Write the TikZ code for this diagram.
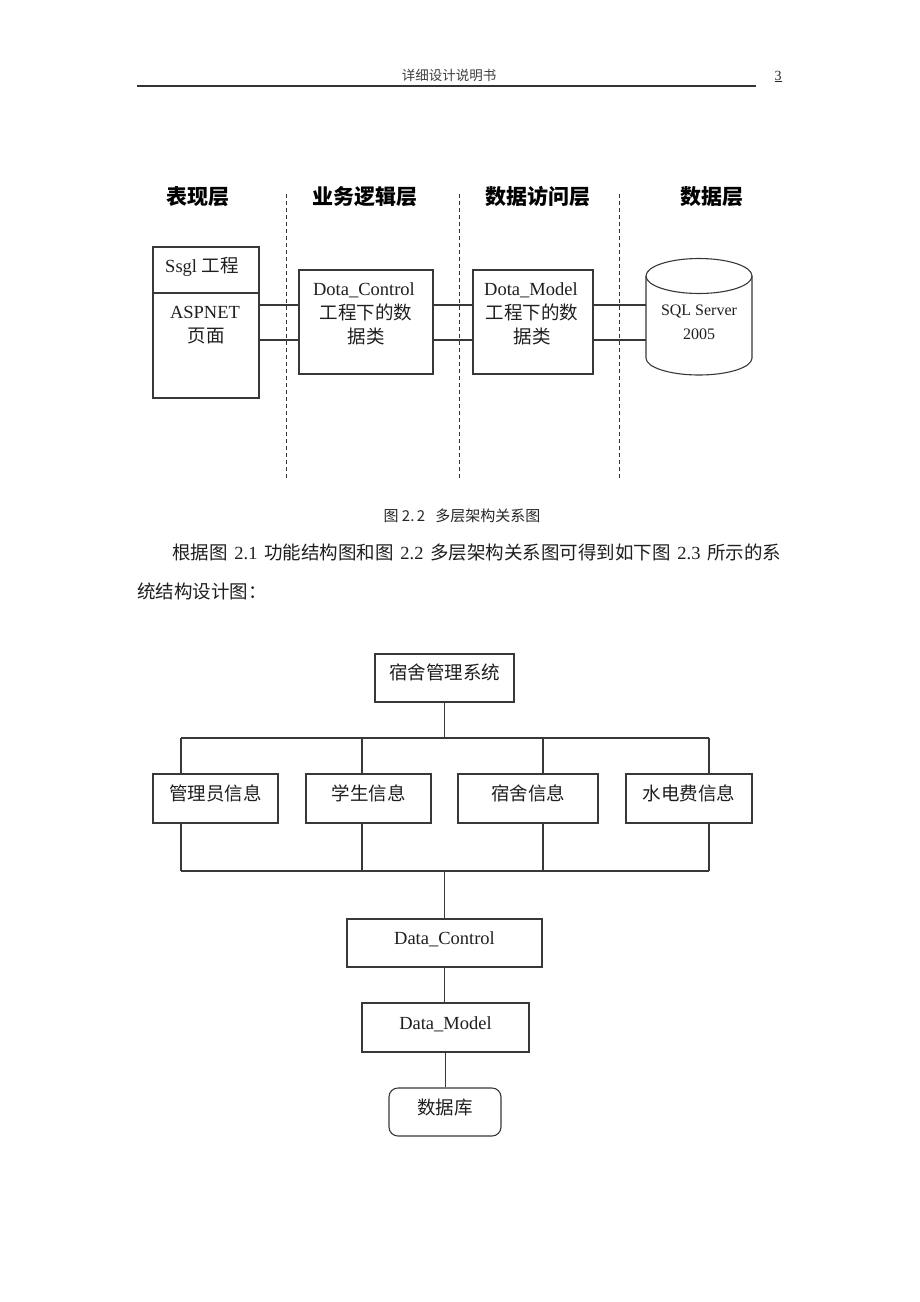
\documentclass[tikz,border=0pt]{standalone}
\usepackage{fontspec}
\setmainfont{Liberation Serif}
\newfontfamily\cjk{Noto Sans CJK SC}
\newcommand\zht[1]{{\cjk #1}}
\begin{document}
\begin{tikzpicture}[x=1pt,y=-1pt,
  ln/.style={draw=black!78, line width=1.1pt},
  box/.style={ln, inner sep=0, fill=none},
  t185/.style={inner sep=0, text height=13.3pt, text depth=0pt, text=black!88, font=\fontsize{18.5}{22}\selectfont},
  t160/.style={inner sep=0, text height=11.5pt, text depth=0pt, text=black!88, font=\fontsize{16}{19}\selectfont},
  thead/.style={inner sep=0, text height=15.1pt, text depth=0pt, text=black, font=\fontsize{21}{24}\selectfont\cjk\bfseries},
  t140/.style={inner sep=0, text height=10pt, text depth=0pt, text=black!85, font=\fontsize{14}{17}\selectfont},
  sep/.style={draw=black!80, line width=0.9pt, dash pattern=on 4pt off 3pt}
]
\useasboundingbox[fill=white] (0,0) rectangle (920,1302);

% ---------- page header ----------
\node[t140, font=\fontsize{13.5}{16}\selectfont\cjk, text=black!75] (hdr) at (449,75) {详细设计说明书};
\node[t140] (pg) at (778,75) {\underline{3}};
\coordinate (hl) at (137,86);
\coordinate (hr) at (756,86);
\draw[draw=black!80, line width=1.9pt] (hl) -- (hr);

% ---------- figure 2.2 ----------
\node[thead] (h1) at (198,197) {表现层};
\node[thead] (h2) at (365,197) {业务逻辑层};
\node[thead] (h3) at (538,197) {数据访问层};
\node[thead] (h4) at (712,197) {数据层};

\draw[sep] (286,194) -- (286,478);
\draw[sep] (459,194) -- (459,478);
\draw[sep] (619,194) -- (619,478);

\node[box, minimum width=106pt, minimum height=151pt] (ssgl) at (206,322.5) {};
\draw[ln] ([yshift=29.5pt]ssgl.west) -- ([yshift=29.5pt]ssgl.east);
\node[t185] (ssglt) at (202,266) {Ssgl \zht{工程}};
\node[t185] (aspt) at (205,312) {ASPNET};
\node[t185] (pgt) at (206,336) {\zht{页面}};

\node[box, minimum width=134pt, minimum height=104pt] (ctrl) at (366,322) {};
\node[t185] (ctrl1) at (364,289) {Dota\_Control};
\node[t185] (ctrl2) at (366,313) {\zht{工程下的数}};
\node[t185] (ctrl3) at (366,337) {\zht{据类}};

\node[box, minimum width=120pt, minimum height=104pt] (model) at (533,322) {};
\node[t185] (model1) at (531,289) {Dota\_Model};
\node[t185] (model2) at (532,313) {\zht{工程下的数}};
\node[t185] (model3) at (532,337) {\zht{据类}};

\node[inner sep=0, minimum width=106pt, minimum height=104pt] (sql) at (699,322) {};
\draw[ln] (646,276) -- (646,358) arc[start angle=180, end angle=0, x radius=53, y radius=17] -- (752,276);
\draw[ln] (699,276) ellipse[x radius=53, y radius=17.5];
\node[t160] (sql1) at (699,310) {SQL Server};
\node[t160] (sql2) at (699,334) {2005};

\foreach \a/\b in {ssgl/ctrl, ctrl/model, model/sql}{
  \draw[ln] ([yshift=17pt]\b.west -| \a.east) -- ([yshift=17pt]\b.west);
  \draw[ln] ([yshift=-18pt]\b.west -| \a.east) -- ([yshift=-18pt]\b.west);
}

% ---------- caption and paragraph ----------
\node[t140, font=\fontsize{15}{18}\selectfont\cjk] (cap) at (462,516) {图 2.\,2\ \ \ 多层架构关系图};
\node[t185, anchor=west] (par1) at (172,553) {\makebox[609pt][s]{\zht{根据图} 2.1 \zht{功能结构图和图} 2.2 \zht{多层架构关系图可得到如下图} 2.3 \zht{所示的系}}};
\node[t185, anchor=west] (par2) at (137,592) {\zht{统结构设计图：}};

% ---------- figure 2.3 ----------
\node[box, minimum width=139pt, minimum height=48pt] (root) at (444.5,678) {};
\node[t185] (roott) at (444.5,673) {\zht{宿舍管理系统}};

\node[box, minimum width=125pt, minimum height=49pt] (b1) at (215.5,798.5) {};
\node[box, minimum width=125pt, minimum height=49pt] (b2) at (368.5,798.5) {};
\node[box, minimum width=140pt, minimum height=49pt] (b3) at (528,798.5) {};
\node[box, minimum width=126pt, minimum height=49pt] (b4) at (689,798.5) {};
\node[t185] (b1t) at (215.5,794) {\zht{管理员信息}};
\node[t185] (b2t) at (368.5,794) {\zht{学生信息}};
\node[t185] (b3t) at (528,794) {\zht{宿舍信息}};
\node[t185] (b4t) at (689,794) {\zht{水电费信息}};

\coordinate (t1) at (181,738);
\coordinate (t2) at (362,738);
\coordinate (t3) at (543,738);
\coordinate (t4) at (709,738);
\coordinate (u1) at (181,871);
\coordinate (u2) at (362,871);
\coordinate (u3) at (543,871);
\coordinate (u4) at (709,871);

\draw[ln] (root.south) -- (root.south |- t1);
\draw[ln] (t1) -- (t4);
\draw[ln] (t1) -- (t1 |- b1.north);
\draw[ln] (t2) -- (t2 |- b2.north);
\draw[ln] (t3) -- (t3 |- b3.north);
\draw[ln] (t4) -- (t4 |- b4.north);
\draw[ln] (u1 |- b1.south) -- (u1);
\draw[ln] (u2 |- b2.south) -- (u2);
\draw[ln] (u3 |- b3.south) -- (u3);
\draw[ln] (u4 |- b4.south) -- (u4);
\draw[ln] (u1) -- (u4);

\node[box, minimum width=195pt, minimum height=48pt] (dc) at (444.5,943) {};
\node[t185] (dct) at (444.5,938) {Data\_Control};
\node[box, minimum width=167pt, minimum height=49pt] (dm) at (445.5,1027.5) {};
\node[t185] (dmt) at (445.5,1023) {Data\_Model};
\node[box, rounded corners=9pt, minimum width=112pt, minimum height=48pt] (db) at (445,1112) {};
\node[t185] (dbt) at (445,1108) {\zht{数据库}};

\draw[ln] (dc.north |- u1) -- (dc.north);
\draw[ln] (dc.south) -- (dc.south |- dm.north);
\draw[ln] (dm.south) -- (dm.south |- db.north);
\end{tikzpicture}
\end{document}
